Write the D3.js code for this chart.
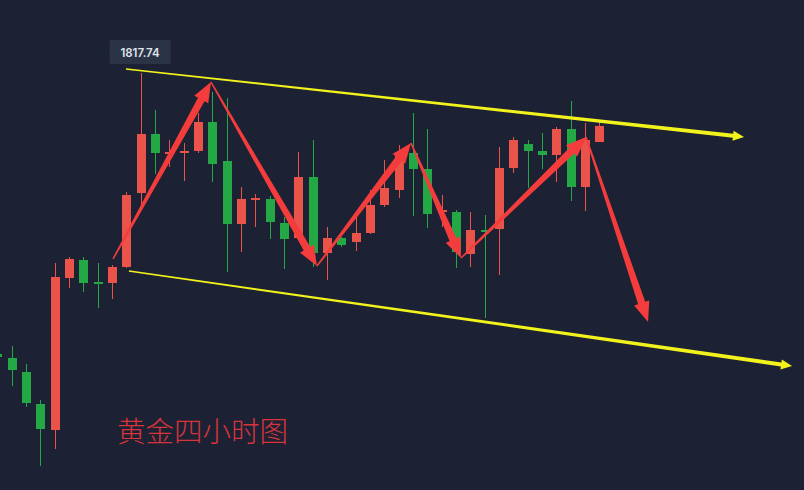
<!DOCTYPE html>
<html>
<head>
<meta charset="utf-8">
<script src="https://cdn.jsdelivr.net/npm/d3@7/dist/d3.min.js"></script>
<style>
html,body{margin:0;padding:0;background:#1c2233;}
svg{display:block;}
</style>
</head>
<body>
<svg id="chart" width="804" height="490"></svg>
<script>
// ---- DATA ----
const candleIndex = d3.range(43);
const opens  = [1761.54,1760.74,1757.94,1751.54,1746.34,1776.74,1780.34,1775.94,1775.74,1778.94,1793.74,1805.54,1801.54,1801.74,1802.14,1807.94,1800.14,1787.54,1792.34,1792.54,1787.74,1784.74,1796.94,1781.74,1784.74,1783.94,1785.74,1791.34,1794.34,1801.74,1798.54,1789.94,1789.94,1781.54,1786.34,1786.54,1798.74,1803.54,1802.14,1801.34,1806.54,1794.94,1803.94];
const highs  = [1762.34,1763.14,1759.54,1752.34,1779.74,1780.94,1780.94,1779.74,1779.34,1793.94,1817.74,1810.34,1804.34,1803.74,1809.74,1813.94,1812.74,1794.94,1793.54,1793.14,1788.94,1801.94,1804.34,1786.94,1784.94,1788.94,1794.34,1800.34,1803.34,1809.74,1806.54,1793.34,1790.34,1789.94,1789.34,1802.94,1804.94,1804.34,1805.74,1806.94,1812.14,1807.74,1807.94];
const lows   = [1759.94,1755.14,1750.94,1739.14,1742.54,1774.74,1773.94,1770.74,1772.54,1778.74,1791.34,1797.54,1798.94,1796.14,1801.74,1795.94,1777.94,1781.94,1786.94,1784.54,1778.54,1784.34,1778.94,1776.34,1782.94,1782.14,1785.54,1790.94,1792.74,1789.14,1786.74,1786.94,1778.74,1778.94,1768.74,1777.34,1797.74,1794.74,1798.54,1795.94,1792.14,1790.14,1803.94];
const closes = [1760.94,1758.34,1751.74,1746.54,1776.94,1780.54,1775.74,1775.54,1778.94,1793.34,1805.54,1801.74,1801.94,1802.14,1807.94,1799.54,1787.54,1792.54,1792.74,1787.94,1784.54,1796.94,1781.74,1784.74,1783.34,1785.74,1791.34,1794.74,1801.94,1798.54,1789.54,1790.34,1781.94,1786.34,1785.94,1798.74,1804.34,1802.14,1801.34,1806.54,1794.94,1804.34,1807.14];

// channel lines [index, price]
const upperChannel = [[8.98,1818.54],[52.08,1804.94]];
const lowerChannel = [[9.19,1778.14],[55.43,1759.14]];
// zigzag arrow path [index, price]
const zigzag = [[8.08,1780.54],[14.91,1815.94],[22.30,1779.14],[28.86,1803.74],[32.35,1780.74],[41.06,1804.94],[45.39,1767.94]];

const highLabel = "1817.74";
const highLabelIndex = 10;
const titleText = "黄金四小时图";

// ---- SCALES ----
const W = 804, H = 490;
const x = d3.scaleLinear().domain([0, 42]).range([-2.84, 599.44]);
const y = d3.scaleLinear().domain([1734.34, 1832.34]).range([490, 0]);

const svg = d3.select("#chart");
svg.append("rect").attr("width", W).attr("height", H).attr("fill", "#1c2233");

const UP = "#e9534a", DOWN = "#24a845";
const bodyW = 9;

const candles = candleIndex.map(i => ({i, o: opens[i], h: highs[i], l: lows[i], c: closes[i]}));

const g = svg.append("g");
const cg = g.selectAll("g.candle").data(candles).join("g").attr("class", "candle");
cg.append("line")
  .attr("x1", d => Math.round(x(d.i)) + 0.5).attr("x2", d => Math.round(x(d.i)) + 0.5)
  .attr("y1", d => y(d.h)).attr("y2", d => y(d.l))
  .attr("stroke", d => d.c >= d.o ? UP : DOWN).attr("stroke-width", 1);
cg.append("rect")
  .attr("x", d => Math.round(x(d.i)) + 0.5 - bodyW / 2)
  .attr("width", bodyW)
  .attr("y", d => y(Math.max(d.o, d.c)))
  .attr("height", d => Math.max(1.5, Math.abs(y(d.o) - y(d.c))))
  .attr("fill", d => d.c >= d.o ? UP : DOWN);

// tapered arrow polygon
function taper(p0, p1, w0, w1, hl, hw) {
  const x0 = x(p0[0]), y0 = y(p0[1]), x1 = x(p1[0]), y1 = y(p1[1]);
  const dx = x1 - x0, dy = y1 - y0, L = Math.hypot(dx, dy);
  const ux = dx / L, uy = dy / L, nx = -uy, ny = ux;
  const bx = x1 - ux * hl, by = y1 - uy * hl;
  return [
    [x0 + nx * w0 / 2, y0 + ny * w0 / 2],
    [bx + nx * w1 / 2, by + ny * w1 / 2],
    [bx + nx * hw / 2, by + ny * hw / 2],
    [x1, y1],
    [bx - nx * hw / 2, by - ny * hw / 2],
    [bx - nx * w1 / 2, by - ny * w1 / 2],
    [x0 - nx * w0 / 2, y0 - ny * w0 / 2]
  ];
}

const YELLOW = "#f2f21c";
[upperChannel, lowerChannel].forEach(seg => {
  svg.append("polygon")
    .attr("points", taper(seg[0], seg[1], 1.4, 4, 11, 10).map(p => p.join(",")).join(" "))
    .attr("fill", YELLOW);
});

const RED = "#f43c3c";
for (let k = 0; k < zigzag.length - 1; k++) {
  svg.append("polygon")
    .attr("points", taper(zigzag[k], zigzag[k + 1], 1.5, 7.5, 20, 16).map(p => p.join(",")).join(" "))
    .attr("fill", RED);
}

// high label
const lx = x(highLabelIndex) - 0.5, ly = y(highs[highLabelIndex]) - 21;
svg.append("rect").attr("x", lx - 30.5).attr("y", ly - 12).attr("width", 61).attr("height", 24)
  .attr("rx", 2).attr("fill", "#2b3447");
svg.append("text").attr("x", lx).attr("y", ly + 4.5).attr("text-anchor", "middle")
  .attr("font-family", "Inter, 'Noto Sans', sans-serif").attr("font-size", 11.5).attr("font-weight", 600)
  .attr("fill", "#dfe3ea").text(highLabel);

// title
svg.append("text").attr("x", 117).attr("y", 442)
  .attr("font-family", "'Noto Sans CJK SC', sans-serif").attr("font-size", 28.5).attr("font-weight", 300)
  .attr("fill", "#d8343c").text(titleText);
</script>
</body>
</html>
